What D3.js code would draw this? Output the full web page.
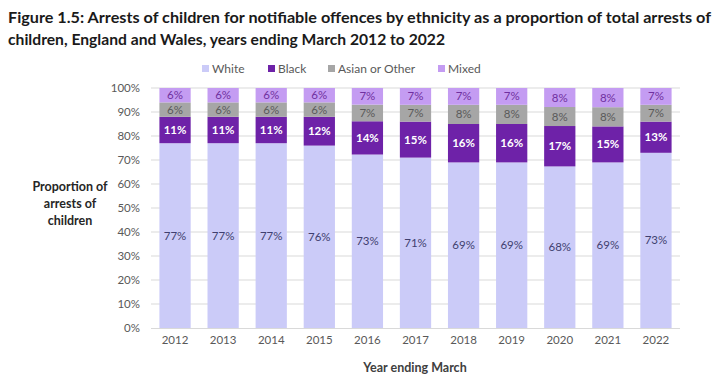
<!DOCTYPE html>
<html><head><meta charset="utf-8">
<script src="https://cdn.jsdelivr.net/npm/d3@7"></script>
<style>body{margin:0;background:#fff}svg{display:block}text{font-family:Lato,"Open Sans",sans-serif}</style>
</head><body><svg id="c" width="720" height="380"></svg>
<script>
const years = ["2012","2013","2014","2015","2016","2017","2018","2019","2020","2021","2022"];
const seriesNames = ["White","Black","Asian or Other","Mixed"];
const white = [77,77,77,76,73,71,69,69,68,69,73];
const black = [11,11,11,12,14,15,16,16,17,15,13];
const asianOther = [6,6,6,6,7,7,8,8,8,8,7];
const mixed = [6,6,6,6,7,7,7,7,8,8,7];
const yTicks = [0,10,20,30,40,50,60,70,80,90,100];

const colors = {"White":"#CBCBF8","Black":"#6E22A8","Asian or Other":"#A6A6A6","Mixed":"#C49CF2"};
const labelColors = {"White":"#3F3F6F","Black":"#FFFFFF","Asian or Other":"#5A5A5A","Mixed":"#7030A0"};

const rows = years.map((y,i)=>({year:y,"White":white[i],"Black":black[i],"Asian or Other":asianOther[i],"Mixed":mixed[i]}));
const svg = d3.select("#c");
const m = {l:151, r:680, t:88, b:328};
const x = d3.scaleBand().domain(years).range([m.l,m.r]).paddingInner(0.35).paddingOuter(0.175);
const y = d3.scaleLinear().domain([0,1]).range([m.b,m.t]);

// gridlines
svg.append("g").selectAll("line").data(yTicks.filter(d=>d>0)).join("line")
  .attr("x1",m.l).attr("x2",m.r).attr("y1",d=>y(d/100)).attr("y2",d=>y(d/100))
  .attr("stroke","#D9D9D9").attr("stroke-width",1);

const stack = d3.stack().keys(seriesNames).offset(d3.stackOffsetExpand)(rows);
const g = svg.append("g");
stack.forEach(s=>{
  const key = s.key;
  g.append("g").selectAll("rect").data(s).join("rect")
    .attr("x",d=>x(d.data.year)).attr("width",x.bandwidth())
    .attr("y",d=>y(d[1])).attr("height",d=>y(d[0])-y(d[1]))
    .attr("fill",colors[key]);
  g.append("g").selectAll("text").data(s).join("text")
    .attr("x",d=>x(d.data.year)+x.bandwidth()/2)
    .attr("y",d=>(y(d[0])+y(d[1]))/2)
    .attr("dy","0.35em").attr("text-anchor","middle")
    .attr("font-size",11.5).attr("fill",labelColors[key])
    .attr("font-weight",key==="Black"?"bold":"normal")
    .text(d=>d.data[key]+"%");
});

// x axis line
svg.append("line").attr("x1",m.l).attr("x2",m.r).attr("y1",m.b+0.5).attr("y2",m.b+0.5).attr("stroke","#D9D9D9");

// y tick labels
svg.append("g").selectAll("text").data(yTicks).join("text")
  .attr("x",140).attr("y",d=>y(d/100)).attr("dy","0.35em").attr("text-anchor","end")
  .attr("font-size",11.5).attr("fill","#595959").text(d=>d+"%");

// x tick labels
svg.append("g").selectAll("text").data(years).join("text")
  .attr("x",d=>x(d)+x.bandwidth()/2).attr("y",344).attr("text-anchor","middle")
  .attr("font-size",11.5).attr("fill","#595959").text(d=>d);

// axis titles
svg.append("text").attr("x",415).attr("y",372).attr("text-anchor","middle")
  .attr("font-size",12.5).attr("font-weight","bold").attr("fill","#404040").text("Year ending March");
const yt = svg.append("text").attr("text-anchor","middle").attr("font-size",12.5).attr("font-weight","bold").attr("fill","#262626");
["Proportion of","arrests of","children"].forEach((t,i)=>yt.append("tspan").attr("x",70).attr("y",191+i*17).text(t));

// legend
const legX = [202,268,328,438];
const lg = svg.append("g");
seriesNames.forEach((n,i)=>{
  lg.append("rect").attr("x",legX[i]).attr("y",65).attr("width",7).attr("height",7).attr("fill",colors[n]);
  lg.append("text").attr("x",legX[i]+10).attr("y",69).attr("dy","0.35em").attr("font-size",12).attr("fill","#595959").text(n);
});

// title
svg.append("text").attr("x",8).attr("y",23).attr("font-size",14.5).attr("font-weight","bold").attr("fill","#1a1a1a")
  .attr("textLength",703).attr("lengthAdjust","spacingAndGlyphs")
  .text("Figure 1.5: Arrests of children for notifiable offences by ethnicity as a proportion of total arrests of");
svg.append("text").attr("x",8).attr("y",45).attr("font-size",14.5).attr("font-weight","bold").attr("fill","#1a1a1a")
  .attr("textLength",437).attr("lengthAdjust","spacingAndGlyphs")
  .text("children, England and Wales, years ending March 2012 to 2022");
</script></body></html>
